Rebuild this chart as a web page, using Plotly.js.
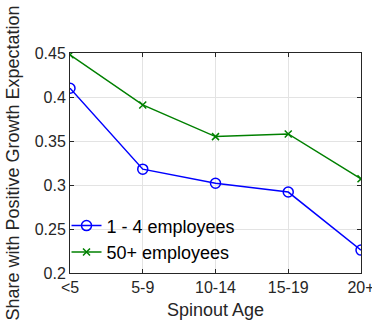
<!DOCTYPE html>
<html>
<head>
<meta charset="utf-8">
<script src="https://cdn.plot.ly/plotly-3.0.1.min.js"></script>
<style>html,body{margin:0;padding:0;background:#fff;}#chart{width:372px;height:330px;}</style>
</head>
<body>
<div id="chart"></div>
<script>
const categories = ['<5', '5-9', '10-14', '15-19', '20+'];
const small = [0.410, 0.318, 0.302, 0.292, 0.226];
const large = [0.448, 0.391, 0.355, 0.358, 0.307];
const seriesNames = ['1 - 4 employees', '50+ employees'];
const yTicks = [0.2, 0.25, 0.3, 0.35, 0.4, 0.45];
const yTickText = ['0.2', '0.25', '0.3', '0.35', '0.4', '0.45'];

const idx = categories.map((c, i) => i);
const font = {family: 'Liberation Sans, Arial, sans-serif', color: '#262626'};

const traces = [
  {x: idx, y: small, name: seriesNames[0], mode: 'lines+markers',
   line: {color: '#0000ff', width: 1.5},
   marker: {symbol: 'circle-open', size: 10, color: '#0000ff', line: {width: 1.5}}},
  {x: idx, y: large, name: seriesNames[1], mode: 'lines+markers',
   line: {color: '#008000', width: 1.5},
   marker: {symbol: 'x-thin-open', size: 7, color: '#008000', line: {width: 1.5, color: '#008000'}}}
];

const layout = {
  width: 372, height: 330,
  margin: {l: 70, r: 11, t: 53, b: 57},
  paper_bgcolor: '#fff', plot_bgcolor: '#fff',
  font: Object.assign({size: 16}, font),
  showlegend: true,
  legend: {x: -0.012, y: 0.012, xanchor: 'left', yanchor: 'bottom', bgcolor: 'rgba(255,255,255,0)',
           font: Object.assign({size: 18}, font, {color: '#000'}), itemwidth: 30, tracegroupgap: 0},
  xaxis: {
    range: [0, 4], tickmode: 'array', tickvals: idx, ticktext: categories,
    showgrid: true, gridcolor: '#e3e3e3', gridwidth: 1,
    showline: true, linecolor: '#262626', linewidth: 1, mirror: 'ticks',
    ticks: 'inside', ticklen: 4, tickcolor: '#262626', zeroline: false,
    ticklabeloverflow: 'allow',
    tickfont: Object.assign({size: 16}, font),
    title: {text: 'Spinout Age', font: Object.assign({size: 18}, font), standoff: 8}
  },
  yaxis: {
    range: [0.2, 0.45], tickmode: 'array', tickvals: yTicks, ticktext: yTickText,
    showgrid: true, gridcolor: '#e3e3e3', gridwidth: 1,
    showline: true, linecolor: '#262626', linewidth: 1, mirror: 'ticks',
    ticks: 'inside', ticklen: 4, tickcolor: '#262626', zeroline: false,
    ticklabeloverflow: 'allow',
    tickfont: Object.assign({size: 16}, font),
    title: {text: 'Share with Positive Growth Expectation', font: Object.assign({size: 18}, font), standoff: 10}
  }
};

Plotly.newPlot('chart', traces, layout, {displayModeBar: false, staticPlot: true});
</script>
</body>
</html>
